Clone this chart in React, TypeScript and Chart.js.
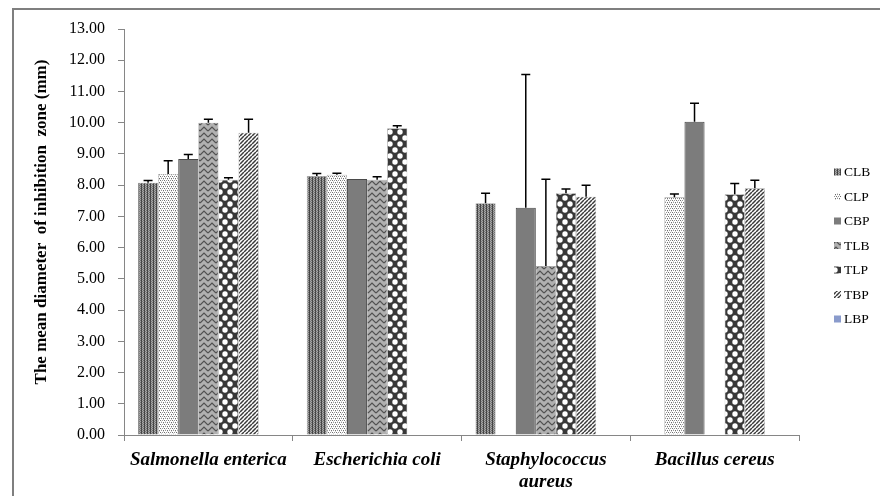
import React, { useEffect, useRef } from "react";
import { Chart, registerables } from "chart.js";

Chart.register(...registerables);

// Bacterial strains on the x axis (multi-line labels are arrays)
const strains: (string | string[])[] = [
  "Salmonella enterica",
  "Escherichia coli",
  ["Staphylococcus", "aureus"],
  "Bacillus cereus",
];

// Extract codes shown in the legend
const seriesNames = ["CLB", "CLP", "CBP", "TLB", "TLP", "TBP", "LBP"];

// Mean inhibition zone diameters (mm) and their standard deviations
const clbMean = [8.08, 8.29, 7.42, null];
const clbSd = [0.07, 0.08, 0.32, null];
const clpMean = [8.36, 8.33, null, 7.61];
const clpSd = [0.42, 0.05, null, 0.11];
const cbpMean = [8.84, 8.2, 7.28, 10.03];
const cbpSd = [0.14, 0, 4.26, 0.59];
const tlbMean = [10.0, 8.17, 5.41, null];
const tlbSd = [0.11, 0.1, 2.78, null];
const tlpMean = [8.17, 9.82, 7.74, 7.71];
const tlpSd = [0.07, 0.08, 0.14, 0.34];
const tbpMean = [9.68, null, 7.63, 7.9];
const tbpSd = [0.43, null, 0.37, 0.26];
const lbpMean = [null, null, null, null];
const lbpSd = [null, null, null, null];

const yMin = 0;
const yMax = 13;
const yStep = 1;

const yTitle = "The mean diameter  of inhibition  zone (mm)";

const SERIF = "'Liberation Serif', 'Times New Roman', 'DejaVu Serif', serif";

function tile(w: number, h: number, draw: (c: CanvasRenderingContext2D) => void) {
  const cv = document.createElement("canvas");
  cv.width = w;
  cv.height = h;
  const c = cv.getContext("2d")!;
  draw(c);
  return cv;
}

function px(c: CanvasRenderingContext2D, x: number, y: number, col: string) {
  c.fillStyle = col;
  c.fillRect(x, y, 1, 1);
}

function makeFills(ctx: CanvasRenderingContext2D) {
  // fine vertical stripes
  const clb = tile(3, 2, (c) => {
    c.fillStyle = "#8e8e8e";
    c.fillRect(0, 0, 3, 2);
    px(c, 0, 0, "#404040");
    px(c, 0, 1, "#4a4a4a");
    px(c, 1, 0, "#a8a8a8");
    px(c, 1, 1, "#7a7a7a");
    px(c, 2, 0, "#707070");
    px(c, 2, 1, "#a4a4a4");
  });
  // light dotted
  const clp = tile(4, 4, (c) => {
    c.fillStyle = "#ffffff";
    c.fillRect(0, 0, 4, 4);
    px(c, 0, 0, "#6e6e6e");
    px(c, 2, 0, "#949494");
    px(c, 1, 2, "#949494");
    px(c, 3, 2, "#6e6e6e");
    px(c, 1, 1, "#d4d4d4");
    px(c, 3, 3, "#d4d4d4");
  });
  // zigzag
  const tlb = tile(8, 6, (c) => {
    c.fillStyle = "#b0b0b0";
    c.fillRect(0, 0, 8, 6);
    c.strokeStyle = "#505050";
    c.lineWidth = 1.2;
    for (const oy of [-6, 0, 6]) {
      c.beginPath();
      c.moveTo(0, oy + 5);
      c.lineTo(4, oy + 1);
      c.lineTo(8, oy + 5);
      c.stroke();
    }
  });
  // white dots on dark ground
  const tlp = tile(10, 12, (c) => {
    c.fillStyle = "#383838";
    c.fillRect(0, 0, 10, 12);
    c.fillStyle = "#ffffff";
    const centres = [
      [0, 0],
      [10, 0],
      [0, 12],
      [10, 12],
      [5, 6],
    ];
    for (const [cx, cy] of centres) {
      c.beginPath();
      c.arc(cx, cy, 2.7, 0, Math.PI * 2);
      c.fill();
    }
  });
  // diagonal hatching
  const tbp = tile(4, 4, (c) => {
    c.fillStyle = "#ffffff";
    c.fillRect(0, 0, 4, 4);
    c.strokeStyle = "#3a3a3a";
    c.lineWidth = 1.5;
    for (const o of [-4, 0, 4]) {
      c.beginPath();
      c.moveTo(o, 4);
      c.lineTo(o + 4, 0);
      c.stroke();
    }
  });
  const p = (cv: HTMLCanvasElement) => ctx.createPattern(cv, "repeat") as CanvasPattern;
  return {
    clb: p(clb),
    clp: p(clp),
    cbp: "#7c7c7c",
    tlb: p(tlb),
    tlp: p(tlp),
    tbp: p(tbp),
    lbp: "#8a9bcc",
  };
}

// Upward error bars with a cap, drawn from the bar top to mean + sd
const errorBars = {
  id: "errorBars",
  afterDatasetsDraw(chart: any) {
    const { ctx } = chart;
    const y = chart.scales.y;
    ctx.save();
    ctx.strokeStyle = "#000000";
    ctx.lineWidth = 1.5;
    chart.data.datasets.forEach((ds: any, i: number) => {
      const meta = chart.getDatasetMeta(i);
      meta.data.forEach((bar: any, j: number) => {
        const v = ds.data[j];
        const e = ds.sd ? ds.sd[j] : null;
        if (v == null || !e) return;
        const top = y.getPixelForValue(v + e);
        ctx.beginPath();
        ctx.moveTo(bar.x, bar.y);
        ctx.lineTo(bar.x, top);
        ctx.moveTo(bar.x - 4.5, top);
        ctx.lineTo(bar.x + 4.5, top);
        ctx.stroke();
      });
    });
    ctx.restore();
  },
};

// Rotated y-axis title
const axisTitle = {
  id: "axisTitle",
  afterDraw(chart: any) {
    const { ctx } = chart;
    ctx.save();
    ctx.translate(42, 222);
    ctx.rotate(-Math.PI / 2);
    ctx.font = `bold 17px ${SERIF}`;
    ctx.fillStyle = "#000";
    ctx.textAlign = "center";
    ctx.textBaseline = "middle";
    ctx.fillText(yTitle, 0, 0);
    ctx.restore();
  },
};

// Vertical legend on the right: small swatch + code
const sideLegend = {
  id: "sideLegend",
  afterDraw(chart: any) {
    const { ctx } = chart;
    ctx.save();
    ctx.font = `13.5px ${SERIF}`;
    ctx.textBaseline = "middle";
    ctx.textAlign = "left";
    chart.data.datasets.forEach((ds: any, i: number) => {
      const cy = 172 + i * 24.5;
      ctx.fillStyle = ds.backgroundColor;
      ctx.fillRect(834, cy - 3.5, 7, 7);
      ctx.fillStyle = "#000";
      ctx.fillText(ds.label, 844, cy + 0.5);
    });
    ctx.restore();
  },
};

export default function App() {
  const ref = useRef<HTMLCanvasElement | null>(null);

  useEffect(() => {
    const canvas = ref.current;
    if (!canvas) return;
    const ctx = canvas.getContext("2d")!;
    const f = makeFills(ctx);
    const fills = [f.clb, f.clp, f.cbp, f.tlb, f.tlp, f.tbp, f.lbp];
    const means = [clbMean, clpMean, cbpMean, tlbMean, tlpMean, tbpMean, lbpMean];
    const sds = [clbSd, clpSd, cbpSd, tlbSd, tlpSd, tbpSd, lbpSd];

    const chart = new Chart(ctx, {
      type: "bar",
      data: {
        labels: strains,
        datasets: seriesNames.map((name, i) => ({
          label: name,
          data: means[i],
          sd: sds[i],
          backgroundColor: fills[i],
          borderColor: i === 2 ? "#4a4a4a" : "rgba(90,90,90,0.6)",
          borderWidth: i === 2 ? 1 : 0.6,
          barPercentage: 1,
          categoryPercentage: 0.834,
        })) as any,
      },
      options: {
        responsive: false,
        animation: false,
        layout: { padding: { left: 0, right: 81, top: 29, bottom: 0 } },
        plugins: {
          legend: { display: false },
          tooltip: { enabled: false },
          title: { display: false },
        },
        scales: {
          x: {
            offset: true,
            grid: {
              display: true,
              offset: true,
              drawOnChartArea: false,
              drawTicks: true,
              tickLength: 6,
              color: "#868686",
            },
            border: { display: true, color: "#868686", width: 1 },
            ticks: {
              color: "#000",
              padding: 8,
              autoSkip: false,
              maxRotation: 0,
              minRotation: 0,
              font: { family: SERIF, size: 19, weight: "bold", style: "italic", lineHeight: 1.15 },
            },
            afterFit: (scale: any) => {
              scale.height = 61;
            },
          },
          y: {
            min: yMin,
            max: yMax,
            grid: {
              display: true,
              drawOnChartArea: false,
              drawTicks: true,
              tickLength: 6,
              color: "#868686",
            },
            border: { display: true, color: "#868686", width: 1 },
            ticks: {
              stepSize: yStep,
              maxTicksLimit: 30,
              color: "#000",
              padding: 13,
              font: { family: SERIF, size: 16 },
              callback: (v: any) => Number(v).toFixed(2),
            },
            afterFit: (scale: any) => {
              scale.width = 124;
            },
          },
        },
      } as any,
      plugins: [errorBars, axisTitle, sideLegend],
    });
    return () => chart.destroy();
  }, []);

  return (
    <div
      style={{
        position: "fixed",
        left: 0,
        top: 0,
        width: 880,
        height: 496,
        background: "#ffffff",
        overflow: "hidden",
      }}
    >
      <div
        style={{
          position: "absolute",
          left: 12,
          top: 8,
          right: 0,
          bottom: 0,
          borderTop: "2px solid #7f7f7f",
          borderLeft: "2px solid #7f7f7f",
        }}
      />
      <canvas
        ref={ref}
        width={880}
        height={496}
        style={{ position: "absolute", left: 0, top: 0, display: "block" }}
      />
    </div>
  );
}
